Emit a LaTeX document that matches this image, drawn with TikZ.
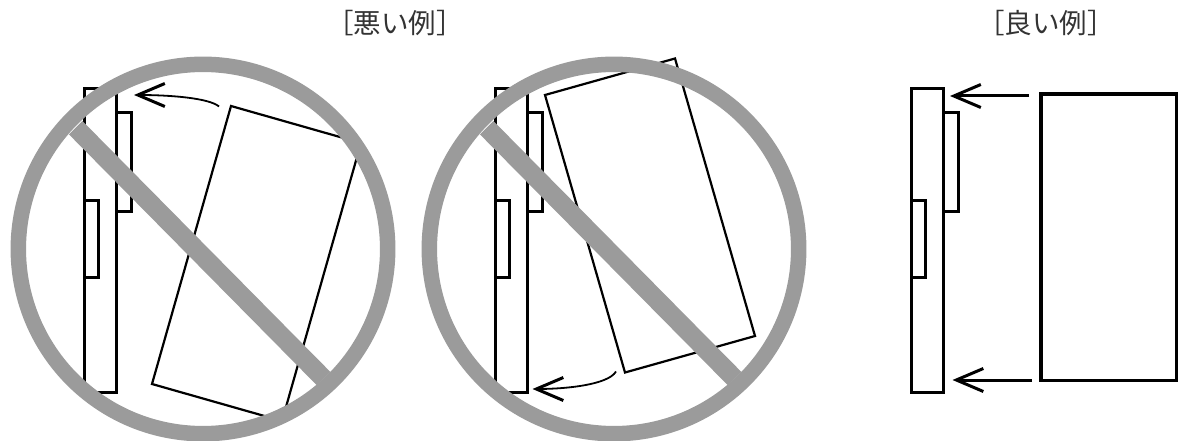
\documentclass[tikz,border=0pt]{standalone}
\usepackage{fontspec}
\newfontfamily\cjk{Noto Sans CJK JP}
\definecolor{ringgray}{RGB}{155,155,155}
\usetikzlibrary{arrows.meta}
\tikzset{
  boardline/.style={black,line width=3pt,line join=miter},
  sheetline/.style={black,line width=2.2pt,line join=miter},
  ringline/.style={ringgray,line width=15.5pt},
  barline/.style={ringgray,line width=19pt},
  movearrow/.style={black,line width=1.8pt,-{Straight Barb[length=27pt,width=23pt,line width=3pt]}},
  caption/.style={font=\cjk\fontsize{27.5pt}{27.5pt}\selectfont,text=black!80,inner sep=0pt},
}
\begin{document}
\begin{tikzpicture}[x=1pt,y=-1pt]
        \useasboundingbox (0,0) rectangle (1178,441);
        \node[caption] (badlabel) at (395,23) {［悪い例］};
        \node[caption] (goodlabel) at (1046,23) {［良い例］};
        % boards
        \foreach \dx in {0,411,827} {
          \begin{scope}[xshift=\dx pt]
            \draw[boardline] (84.5,89) rectangle (116.7,392);
            \draw[boardline] (116.7,112.5) -- (131,112.5) -- (131,211) -- (116.7,211);
            \draw[boardline] (84.5,200.5) -- (98,200.5) -- (98,277) -- (84.5,277);
          \end{scope}
        }
        % sheets
        \draw[sheetline] (231,106) -- (361,143) -- (282,421) -- (152,384) -- cycle;
        \draw[sheetline] (545,95) -- (675,58.5) -- (755,336) -- (625,372.5) -- cycle;
        \draw[boardline,line width=3.4pt] (1041,94) rectangle (1176.5,380.5);
        % arrows
        \coordinate (tailA) at (219,106.5);
        \coordinate (tipA) at (134,95);
        \coordinate (tailB) at (616,371.5);
        \coordinate (tipB) at (532.5,389);
        \coordinate (tailC) at (1029,96);
        \coordinate (tipC) at (950,96);
        \coordinate (tailD) at (1032,380);
        \coordinate (tipD) at (952.5,380);
        \draw[movearrow] (tailA) .. controls (209,98) and (170,95) .. (tipA);
        \draw[movearrow] (tailB) .. controls (608,385) and (565,389) .. (tipB);
        \draw[movearrow,line width=3pt] (tailC) -- (tipC);
        \draw[movearrow,line width=3pt] (tailD) -- (tipD);
        % prohibition signs
        \foreach \dx in {0,411} {
          \begin{scope}[xshift=\dx pt]
            \draw[ringline] (203,249) circle (184.7);
            \draw[barline] (75.7,127.7) -- (323.7,378.7);
          \end{scope}
        }
      \end{tikzpicture}
\end{document}
